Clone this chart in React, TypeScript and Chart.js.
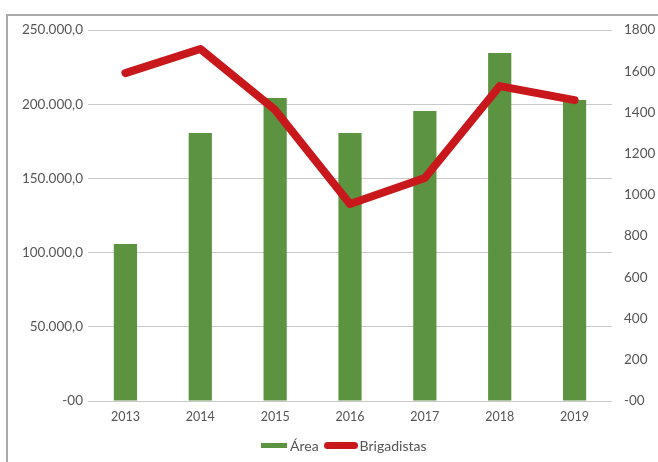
import React, { useEffect, useRef } from "react";
import { Chart, registerables } from "chart.js";

Chart.register(...registerables);

const years = ["2013", "2014", "2015", "2016", "2017", "2018", "2019"];
const areaValues = [105800, 180600, 204200, 180600, 195400, 234500, 202800];
const brigadistasValues = [1591, 1708, 1412, 956, 1082, 1528, 1460];
const leftTicksMax = 250000;
const rightTicksMax = 1800;

const GREEN = "#5B9340";
const RED = "#C9181C";
const TEXT = "#555555";
const FONT = "Lato, 'Liberation Sans', sans-serif";

function fmtLeft(v: number): string {
  if (v === 0) return "-00";
  const s = Math.round(v).toString().replace(/\B(?=(\d{3})+(?!\d))/g, ".");
  return s + ",0";
}

export default function App() {
  const ref = useRef<HTMLCanvasElement | null>(null);
  useEffect(() => {
    document.body.style.margin = "0";
    const ctx = ref.current!;
    const chart = new Chart(ctx, {
      data: {
        labels: years,
        datasets: [
          {
            type: "line",
            label: "Brigadistas",
            data: brigadistasValues,
            yAxisID: "y1",
            borderColor: RED,
            backgroundColor: RED,
            borderWidth: 8,
            pointRadius: 0,
            tension: 0,
            borderCapStyle: "round",
            borderJoinStyle: "round",
            order: 0,
          },
          {
            type: "bar",
            label: "Área",
            data: areaValues,
            yAxisID: "y",
            backgroundColor: GREEN,
            barPercentage: 0.31,
            categoryPercentage: 1,
            order: 1,
          },
        ],
      } as any,
      options: {
        animation: false,
        responsive: false,
        maintainAspectRatio: false,
        layout: { padding: { top: 30, bottom: 31, left: 0, right: 0 } },
        plugins: { legend: { display: false }, tooltip: { enabled: false } },
        scales: {
          x: {
            grid: { display: false, drawTicks: false },
            border: { display: false },
            ticks: { color: TEXT, font: { family: FONT, size: 12.5 }, padding: 8, maxRotation: 0 },
            afterFit: (s: any) => { s.height = 30; },
          },
          y: {
            position: "left",
            min: 0,
            max: leftTicksMax,
            grid: { color: "#c9c9c9", lineWidth: 1, drawTicks: false },
            border: { display: false },
            ticks: {
              stepSize: 50000,
              color: TEXT,
              font: { family: FONT, size: 13.5 },
              padding: 5,
              callback: (v: any) => fmtLeft(Number(v)),
            },
            afterFit: (s: any) => { s.width = 88; },
          },
          y1: {
            position: "right",
            min: 0,
            max: rightTicksMax,
            grid: { display: false, drawTicks: false },
            border: { display: false },
            ticks: {
              stepSize: 200,
              color: TEXT,
              font: { family: FONT, size: 13.5 },
              padding: 12,
              callback: (v: any) => (Number(v) === 0 ? "-00" : String(v)),
            },
            afterFit: (s: any) => { s.width = 46; },
          },
        },
      } as any,
    });
    return () => chart.destroy();
  }, []);

  return (
    <div style={{ position: "fixed", left: 0, top: 0, width: 658, height: 462, background: "#fff", overflow: "hidden" }}>
      <div
        style={{
          position: "absolute",
          left: 6,
          top: 14,
          width: 660,
          height: 460,
          borderLeft: "2px solid #a9a9a9",
          borderTop: "2px solid #a9a9a9",
        }}
      />
      <canvas ref={ref} width={658} height={462} style={{ position: "absolute", left: 0, top: 0, width: 658, height: 462 }} />
      <div
        style={{
          position: "absolute",
          left: 261,
          top: 435,
          height: 20,
          display: "flex",
          alignItems: "center",
          fontFamily: FONT,
          fontSize: 14,
          color: TEXT,
          whiteSpace: "nowrap",
        }}
      >
        <span style={{ display: "inline-block", width: 26, height: 5, background: GREEN, marginRight: 3 }} />
        <span style={{ marginRight: 5 }}>Área</span>
        <span style={{ display: "inline-block", width: 34, height: 7, background: RED, borderRadius: 4, marginRight: 2 }} />
        <span>Brigadistas</span>
      </div>
    </div>
  );
}
